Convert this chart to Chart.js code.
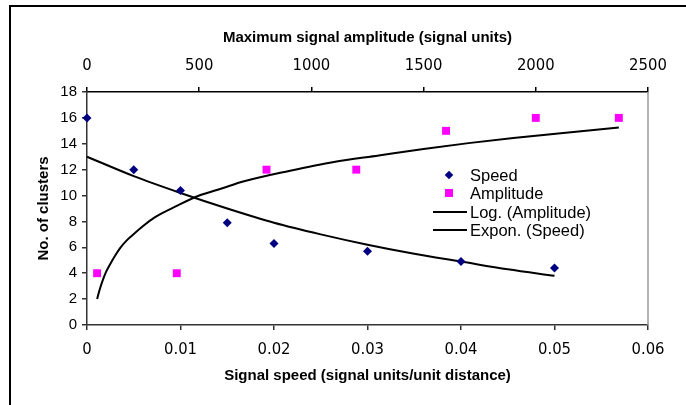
<!DOCTYPE html>
<html>
<head>
<meta charset="utf-8">
<script src="https://cdn.jsdelivr.net/npm/chart.js@4.4.1/dist/chart.umd.min.js"></script>
<style>
  html, body { margin: 0; padding: 0; background: #fff; overflow: hidden; width: 686px; height: 405px; }
  #wrap { position: relative; width: 686px; height: 405px; }
  #frame { position: absolute; left: 9px; top: 5px; width: 800px; height: 500px; border: 2px solid #000; box-sizing: border-box; }
  canvas { position: absolute; left: 0; top: 0; }
  #legend { position: absolute; left: 430px; top: 166px; font-family: 'Liberation Sans', Arial, sans-serif; font-size: 16.5px; color: #000; }
  .row { height: 18.3px; line-height: 18.3px; position: relative; padding-left: 40px; white-space: nowrap; }
  .sym { position: absolute; }
  .dia { left: 16px; top: 6px; width: 6px; height: 6px; background: #000080; transform: rotate(45deg); }
  .sq { left: 15px; top: 5px; width: 8px; height: 8px; background: #ff00ff; }
  .ln { left: 3px; top: 8px; width: 34px; height: 2px; background: #000; }
</style>
</head>
<body>
<div id="wrap">
  <div id="frame"></div>
  <canvas id="c" width="686" height="405"></canvas>
  <div id="legend"></div>
</div>
<script>
// ---- data ----
const speedX = [0, 0.005, 0.01, 0.015, 0.02, 0.03, 0.04, 0.05];
const speedY = [16, 12, 10.4, 7.9, 6.3, 5.7, 4.9, 4.4];
const ampX = [45, 400, 800, 1200, 1600, 2000, 2370];
const ampY = [4, 4, 12, 12, 15, 16, 16];
// trendlines as drawn in the reference
const logTrendX = [45, 55, 70, 85, 100, 125, 150, 175, 200, 250, 300, 400, 500, 600, 700, 900, 1100, 1300, 1500, 1700, 1900, 2100, 2370];
const logTrendY = [2.0, 2.65, 3.45, 4.1, 4.6, 5.35, 6.0, 6.5, 6.9, 7.65, 8.3, 9.2, 10.0, 10.55, 11.1, 11.9, 12.6, 13.1, 13.6, 14.05, 14.45, 14.8, 15.25];
const expTrendX = [0, 0.005, 0.01, 0.015, 0.02, 0.025, 0.03, 0.035, 0.04, 0.045, 0.05];
const expTrendY = [13.0, 11.5, 10.2, 9.0, 7.9, 7.0, 6.2, 5.5, 4.9, 4.3, 3.8];
// ticks
const speedTicks = [0, 0.01, 0.02, 0.03, 0.04, 0.05, 0.06];
const speedTickLabels = ['0', '0.01', '0.02', '0.03', '0.04', '0.05', '0.06'];
const ampTicks = [0, 500, 1000, 1500, 2000, 2500];
const ampTickLabels = ['0', '500', '1000', '1500', '2000', '2500'];
const yTicks = [0, 2, 4, 6, 8, 10, 12, 14, 16, 18];
const yTickLabels = ['0', '2', '4', '6', '8', '10', '12', '14', '16', '18'];
const legendLabels = ['Speed', 'Amplitude', 'Log. (Amplitude)', 'Expon. (Speed)'];
const titleTop = 'Maximum signal amplitude (signal units)';
const titleBottom = 'Signal speed (signal units/unit distance)';
const titleLeft = 'No. of clusters';

// font detection for a narrow face
function hasFont(name) {
  const cv = document.createElement('canvas').getContext('2d');
  cv.font = '20px monospace';
  const a = cv.measureText('1000 0.05 abc').width;
  cv.font = "20px '" + name + "', monospace";
  const b = cv.measureText('1000 0.05 abc').width;
  return Math.abs(a - b) > 0.5;
}
let tickFontX;
if (hasFont('Liberation Sans Narrow')) tickFontX = { family: "'Liberation Sans Narrow'", size: 17 };
else if (hasFont('DejaVu Sans Condensed')) tickFontX = { family: "'DejaVu Sans Condensed'", size: 16.5 };
else tickFontX = { family: "'Liberation Sans'", size: 15 };
const SANS = "'Liberation Sans', Arial, sans-serif";
const lhHalf = tickFontX.size * 1.2 / 2;

const pts = (xs, ys) => xs.map((x, i) => ({ x: x, y: ys[i] }));

const axisCol = '#333';
const frameRight = {
  id: 'frameRight',
  afterDraw(chart) {
    const { ctx, chartArea } = chart;
    ctx.save();
    ctx.strokeStyle = '#9a9a9a';
    ctx.lineWidth = 1.5;
    ctx.beginPath();
    ctx.moveTo(chartArea.right, chartArea.top);
    ctx.lineTo(chartArea.right, chartArea.bottom);
    ctx.stroke();
    ctx.restore();
  }
};

new Chart(document.getElementById('c'), {
  type: 'scatter',
  data: {
    datasets: [
      { label: legendLabels[0], data: pts(speedX, speedY), xAxisID: 'x', yAxisID: 'y',
        pointStyle: 'rectRot', pointRadius: 4.5, backgroundColor: '#000080', borderColor: '#000080', borderWidth: 0, clip: false, order: 1 },
      { label: legendLabels[1], data: pts(ampX, ampY), xAxisID: 'x2', yAxisID: 'y',
        pointStyle: 'rect', pointRadius: 5.6, backgroundColor: '#ff00ff', borderColor: '#ff00ff', borderWidth: 0, clip: false, order: 1 },
      { label: legendLabels[2], data: pts(logTrendX, logTrendY), xAxisID: 'x2', yAxisID: 'y',
        showLine: true, pointRadius: 0, borderColor: '#000', borderWidth: 2, cubicInterpolationMode: 'monotone', clip: false, order: 2 },
      { label: legendLabels[3], data: pts(expTrendX, expTrendY), xAxisID: 'x', yAxisID: 'y',
        showLine: true, pointRadius: 0, borderColor: '#000', borderWidth: 2, cubicInterpolationMode: 'monotone', clip: false, order: 2 }
    ]
  },
  options: {
    responsive: false,
    animation: false,
    devicePixelRatio: 1,
    layout: { padding: { left: 0, right: 38, top: 0, bottom: 0 } },
    plugins: { legend: { display: false }, tooltip: { enabled: false } },
    scales: {
      x: {
        type: 'linear', position: 'bottom', min: 0, max: 0.06,
        afterBuildTicks: s => { s.ticks = speedTicks.map(v => ({ value: v })); },
        afterFit: s => { s.height = 80; },
        ticks: { callback: (v, i) => speedTickLabels[i], color: '#000', padding: 349.5 - 330 - lhHalf, maxRotation: 0, autoSkip: false,
                 font: { family: tickFontX.family, size: tickFontX.size } },
        grid: { drawOnChartArea: false, drawTicks: true, tickLength: 5, color: axisCol, lineWidth: 1.5 },
        border: { display: true, color: axisCol, width: 1.5 },
        title: { display: true, text: titleBottom, color: '#000', font: { family: SANS, size: 15, weight: 'bold' }, padding: { top: 0, bottom: 20 } }
      },
      x2: {
        type: 'linear', position: 'top', min: 0, max: 2500,
        afterBuildTicks: s => { s.ticks = ampTicks.map(v => ({ value: v })); },
        afterFit: s => { s.height = 92; },
        ticks: { callback: (v, i) => ampTickLabels[i], color: '#000', padding: 87 - 65.5 - lhHalf, maxRotation: 0, autoSkip: false,
                 font: { family: tickFontX.family, size: tickFontX.size } },
        grid: { drawOnChartArea: false, drawTicks: true, tickLength: 5, color: '#000', lineWidth: 1.5 },
        border: { display: true, color: '#000', width: 1.5 },
        title: { display: true, text: titleTop, color: '#000', font: { family: SANS, size: 15, weight: 'bold' }, padding: { top: 28.5, bottom: 0 } }
      },
      y: {
        type: 'linear', position: 'left', min: 0, max: 18,
        afterBuildTicks: s => { s.ticks = yTicks.map(v => ({ value: v })); },
        afterFit: s => { s.width = 87; },
        ticks: { callback: (v, i) => yTickLabels[i], color: '#000', padding: 5, autoSkip: false,
                 font: { family: SANS, size: 15 } },
        grid: { drawOnChartArea: false, drawTicks: true, tickLength: 5, color: axisCol, lineWidth: 1.5 },
        border: { display: true, color: axisCol, width: 1.5 },
        title: { display: true, text: titleLeft, color: '#000', font: { family: SANS, size: 15, weight: 'bold' }, padding: { top: 35, bottom: 0 } }
      }
    }
  },
  plugins: [frameRight]
});

// legend overlay
const legendSyms = ['dia', 'sq', 'ln', 'ln'];
const lg = document.getElementById('legend');
legendLabels.forEach((t, i) => {
  const r = document.createElement('div');
  r.className = 'row';
  const s = document.createElement('div');
  s.className = 'sym ' + legendSyms[i];
  r.appendChild(s);
  r.appendChild(document.createTextNode(t));
  lg.appendChild(r);
});
</script>
</body>
</html>
